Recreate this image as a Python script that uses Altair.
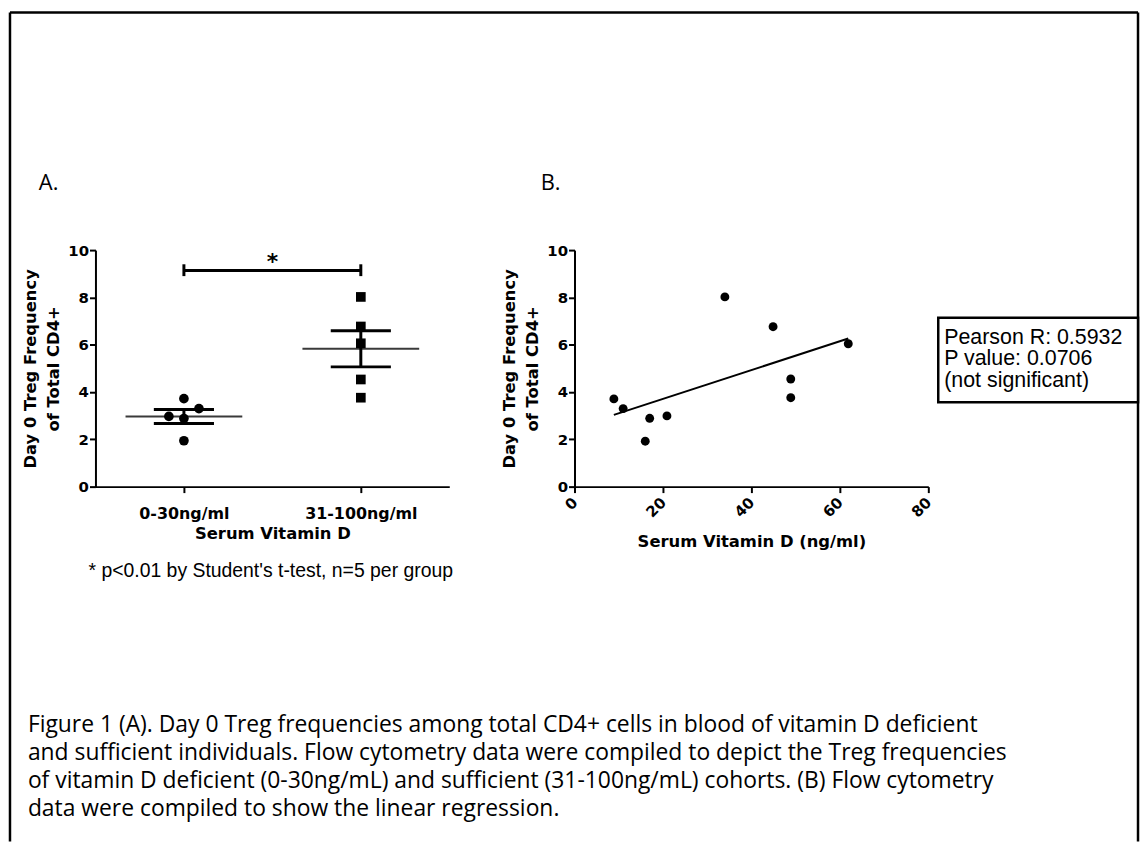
import altair as alt
import pandas as pd

# ---------------- data ----------------
groups = ["0-30ng/ml", "31-100ng/ml"]
group_pos = [0.5, 1.5]
low_vals = [3.72, 3.30, 2.97, 2.88, 1.94]
low_spread = [0.0, 0.085, -0.085, 0.0, 0.0]
high_vals = [8.02, 6.77, 6.06, 4.53, 3.76]
high_spread = [0.0, 0.0, 0.0, 0.0, 0.0]

vitd = [8.9, 11.0, 16.0, 17.0, 20.9, 34.0, 44.9, 48.9, 48.9, 61.9]
treg = [3.71, 3.30, 1.92, 2.89, 2.99, 8.02, 6.76, 4.55, 3.76, 6.04]

sig_y = 9.14
sig_cap = [8.9, 9.4]
star_y = 9.66

y_ticks = [0, 2, 4, 6, 8, 10]
x_ticks_b = [0, 20, 40, 60, 80]
y_title = ["Day 0 Treg Frequency", "of Total CD4+"]
x_title_a = "Serum Vitamin D"
x_title_b = "Serum Vitamin D (ng/ml)"
stats_lines = ["Pearson R: 0.5932", "P value: 0.0706", "(not significant)"]
footnote = "* p<0.01 by Student's t-test, n=5 per group"
caption_lines = [
    "Figure 1 (A). Day 0 Treg frequencies among total CD4+ cells in blood of vitamin D deficient",
    "and sufficient individuals. Flow cytometry data were compiled to depict the Treg frequencies",
    "of vitamin D deficient (0-30ng/mL) and sufficient (31-100ng/mL) cohorts. (B) Flow cytometry",
    "data were compiled to show the linear regression.",
]

W, H = 356, 238

dfA = pd.DataFrame({
    "group": [groups[0]] * len(low_vals) + [groups[1]] * len(high_vals),
    "pos": [group_pos[0]] * len(low_vals) + [group_pos[1]] * len(high_vals),
    "value": low_vals + high_vals,
    "spread": low_spread + high_spread,
})
dfB = pd.DataFrame({"vitd": vitd, "treg": treg})
one = pd.DataFrame({"k": [0]})

xA = alt.Scale(domain=[0, 2], nice=False, zero=False)
yS = alt.Scale(domain=[0, 10], nice=False)

y_axis = alt.Axis(values=y_ticks, labelFontSize=15, labelPadding=1,
                  title=y_title, titleX=-65, titleY=H / 2, titleAngle=270,
                  titleBaseline="middle", titleAlign="center", titleLineHeight=23)
label_expr = f"datum.value < 1 ? '{groups[0]}' : '{groups[1]}'"
x_axis_a = alt.Axis(values=group_pos, labelExpr=label_expr, labelFontSize=16,
                    labelBaseline="alphabetic", labelPadding=26, labelFlush=False,
                    labelOverlap=False, title=x_title_a, titleY=52,
                    titleBaseline="alphabetic")
x_axis_b = alt.Axis(values=x_ticks_b, labelAngle=315, labelAlign="right",
                    labelBaseline="middle", labelPadding=7, labelFontSize=15,
                    labelFlush=False, labelOverlap=False,
                    title=x_title_b, titleY=60, titleBaseline="alphabetic")

# ---------------- panel A ----------------
baseA = alt.Chart(dfA)
stats = baseA.transform_aggregate(
    mean="mean(value)", se="stderr(value)", groupby=["group", "pos"]
).transform_calculate(
    lo="datum.mean - datum.se", hi="datum.mean + datum.se",
    ml="datum.pos - 0.33", mr="datum.pos + 0.33",
    cl="datum.pos - 0.17", cr="datum.pos + 0.17",
)


def XA(f):
    return alt.X(f, scale=xA, axis=x_axis_a)


def YS(f):
    return alt.Y(f, scale=yS, axis=y_axis)


mean_line = stats.mark_rule(color="#3a3a3a", strokeWidth=2).encode(
    x=XA("ml:Q"), x2="mr:Q", y=YS("mean:Q"))
sem_hi = stats.mark_rule(color="black", strokeWidth=3).encode(
    x=XA("cl:Q"), x2="cr:Q", y=YS("hi:Q"))
sem_lo = stats.mark_rule(color="black", strokeWidth=3).encode(
    x=XA("cl:Q"), x2="cr:Q", y=YS("lo:Q"))
sem_v = stats.mark_rule(color="black", strokeWidth=3).encode(
    x=XA("pos:Q"), y=YS("lo:Q"), y2="hi:Q")
pointsA = baseA.transform_calculate(xp="datum.pos + datum.spread").mark_point(
    filled=True, opacity=1, color="black", size=95).encode(
    x=XA("xp:Q"), y=YS("value:Q"),
    shape=alt.Shape("group:N", scale=alt.Scale(domain=groups, range=["circle", "square"]), legend=None))

brk = pd.DataFrame({"pos": group_pos, "lo": [sig_cap[0]] * 2, "hi": [sig_cap[1]] * 2, "y": [sig_y] * 2})
brk_h = alt.Chart(brk).mark_rule(color="black", strokeWidth=3).encode(
    x=XA("min(pos):Q"), x2="max(pos):Q", y=YS("mean(y):Q"))
brk_v = alt.Chart(brk).mark_rule(color="black", strokeWidth=3).encode(
    x=XA("pos:Q"), y=YS("lo:Q"), y2="hi:Q")
star = alt.Chart(pd.DataFrame({"x": [sum(group_pos) / 2], "y": [star_y]})).mark_text(
    text="*", font="DejaVu Sans", fontWeight="bold", fontSize=22, baseline="middle",
    dy=4, color="black").encode(x=XA("x:Q"), y=YS("y:Q"))

label_a = alt.Chart(one).mark_text(text="A.", font="Open Sans", fontSize=22, align="left",
                                  baseline="alphabetic", color="black").encode(
    x=alt.value(-57), y=alt.value(-60))
foot = alt.Chart(one).mark_text(text=footnote, font="Liberation Sans", fontSize=19.5,
                               align="left", baseline="alphabetic", color="black").encode(
    x=alt.value(-7), y=alt.value(329))
caption = alt.Chart(one).mark_text(text=caption_lines, font="Open Sans", fontSize=23,
                                  lineHeight=28, align="left", baseline="alphabetic",
                                  color="black").encode(
    x=alt.value(-68), y=alt.value(485))
frame_l = alt.Chart(one).mark_rule(color="black", strokeWidth=2.5).encode(
    x=alt.value(-86), y=alt.value(-239), y2=alt.value(595))
frame_t = alt.Chart(one).mark_rule(color="black", strokeWidth=2.5).encode(
    x=alt.value(-86), x2=alt.value(1049), y=alt.value(-239))
frame_r = alt.Chart(one).mark_rule(color="black", strokeWidth=2.5).encode(
    x=alt.value(1049), y=alt.value(-239), y2=alt.value(595))

panelA = alt.layer(mean_line, sem_hi, sem_lo, sem_v, pointsA, brk_h, brk_v, star,
                   label_a, foot, caption, frame_l, frame_t, frame_r).properties(width=W, height=H)

# ---------------- panel B ----------------
xB = alt.Scale(domain=[0, 80], nice=False)
baseB = alt.Chart(dfB)
reg = baseB.transform_regression("vitd", "treg").mark_line(color="black", strokeWidth=2).encode(
    x=alt.X("vitd:Q", scale=xB, axis=x_axis_b),
    y=alt.Y("treg:Q", scale=yS, axis=y_axis))
pointsB = baseB.mark_circle(color="black", opacity=1, size=80).encode(
    x=alt.X("vitd:Q", scale=xB, axis=x_axis_b),
    y=alt.Y("treg:Q", scale=yS, axis=y_axis))
label_b = alt.Chart(one).mark_text(text="B.", font="Open Sans", fontSize=22, align="left",
                                  baseline="alphabetic", color="black").encode(
    x=alt.value(-34), y=alt.value(-60))
box = alt.Chart(one).mark_rect(fill="white", stroke="black", strokeWidth=2.5).encode(
    x=alt.value(366), x2=alt.value(567), y=alt.value(68), y2=alt.value(153))
box_text = alt.Chart(one).mark_text(text=stats_lines, font="Liberation Sans", fontSize=21.5,
                                   lineHeight=22, align="left", baseline="alphabetic",
                                   color="black").encode(
    x=alt.value(372), y=alt.value(94))

panelB = alt.layer(reg, pointsB, label_b, box, box_text).properties(width=W, height=H)

chart = alt.hconcat(panelA, panelB, spacing=126, bounds="flush").properties(
    padding=0
).configure_view(strokeWidth=0).configure_axis(
    domainColor="black", domainWidth=2, tickColor="black", tickWidth=2, tickSize=6,
    grid=False, labelColor="black", labelFont="DejaVu Sans", labelFontWeight="bold",
    titleColor="black", titleFont="DejaVu Sans", titleFontWeight="bold", titleFontSize=16.5,
)

chart.save("out.html", embed_options={"renderer": "svg", "actions": False})
